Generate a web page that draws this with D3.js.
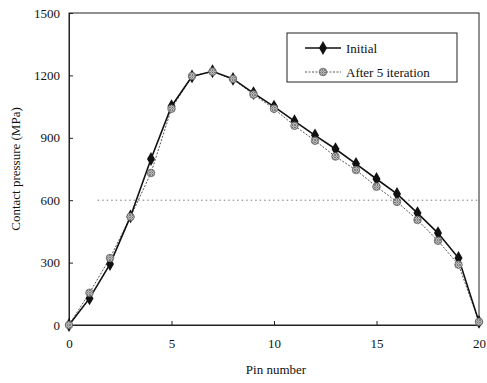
<!DOCTYPE html>
<html>
<head>
<meta charset="utf-8">
<script src="https://cdnjs.cloudflare.com/ajax/libs/d3/7.8.5/d3.min.js"></script>
<style>
  body { margin: 0; background: #fff; }
  text { font-family: "Liberation Serif", "DejaVu Serif", serif; fill: #111; }
</style>
</head>
<body>
<div id="chart"></div>
<script>
// pin index 0..20
let pins = d3.range(0, 21);
let initial = [0, 128, 293, 522, 798, 1052, 1195, 1220, 1183, 1115, 1050, 980, 912, 846, 775, 702, 630, 538, 442, 322, 15];
let after5 = [0, 155, 322, 520, 731, 1040, 1197, 1218, 1183, 1108, 1040, 958, 886, 810, 745, 665, 592, 505, 405, 290, 15];
let xTicks = [0, 5, 10, 15, 20];
let yTicks = [0, 300, 600, 900, 1200, 1500];
let seriesNames = ["Initial", "After 5 iteration"];

let width = 487, height = 383;
let mLeft = 69, mRight = 479, mTop = 13, mBottom = 325;

let svg = d3.select("#chart").append("svg")
    .attr("width", width)
    .attr("height", height);

let defs = svg.append("defs");
let pat = defs.append("pattern")
    .attr("id", "hatch")
    .attr("patternUnits", "userSpaceOnUse")
    .attr("width", 2.5).attr("height", 2.5);
pat.append("rect").attr("width", 2.5).attr("height", 2.5).attr("fill", "#e4e4e4");
pat.append("path").attr("d", "M0,0 L2.5,2.5 M2.5,0 L0,2.5")
    .attr("stroke", "#555").attr("stroke-width", 0.7);

let x = d3.scaleLinear().domain([0, 20]).range([mLeft, mRight]);
let y = d3.scaleLinear().domain([0, 1500]).range([mBottom, mTop]);

// frame
svg.append("rect")
    .attr("x", mLeft).attr("y", mTop)
    .attr("width", mRight - mLeft).attr("height", mBottom - mTop)
    .attr("fill", "none").attr("stroke", "#222").attr("stroke-width", 1);

// dotted line at 600
svg.append("line")
    .attr("x1", x(1.4)).attr("x2", mRight)
    .attr("y1", y(600)).attr("y2", y(600))
    .attr("stroke", "#777").attr("stroke-width", 1)
    .attr("stroke-dasharray", "1.5,3");

// axes (ticks inward)
let xAxis = d3.axisBottom(x).tickValues(xTicks).tickFormat(d3.format("d")).tickSize(-4).tickPadding(14);
let gx = svg.append("g").attr("transform", "translate(0," + mBottom + ")").call(xAxis);
let yAxis = d3.axisLeft(y).tickValues(yTicks).tickFormat(d3.format("d")).tickSize(-4).tickPadding(9);
let gy = svg.append("g").attr("transform", "translate(" + mLeft + ",0)").call(yAxis);
[gx, gy].forEach(g => {
    g.attr("font-family", null).attr("font-size", null);
    g.select(".domain").attr("stroke", "#222");
    g.selectAll(".tick line").attr("stroke", "#222");
    g.selectAll("text").style("font-size", "13px")
        .style("font-family", "'Liberation Serif', serif").attr("fill", "#111");
});

// axis titles
svg.append("text")
    .attr("x", 276).attr("y", 374)
    .attr("text-anchor", "middle")
    .style("font-size", "13px")
    .text("Pin number");
svg.append("text")
    .attr("transform", "translate(20," + ((mTop + mBottom) / 2) + ") rotate(-90)")
    .attr("text-anchor", "middle")
    .style("font-size", "13px")
    .text("Contact pressure (MPa)");

let line = d3.line().x((d, i) => x(pins[i])).y(d => y(d));

// after 5 iteration series
svg.append("path").datum(after5)
    .attr("d", line)
    .attr("fill", "none").attr("stroke", "#555").attr("stroke-width", 1)
    .attr("stroke-dasharray", "2,1.5");

// initial series
svg.append("path").datum(initial)
    .attr("d", line)
    .attr("fill", "none").attr("stroke", "#111").attr("stroke-width", 1.6);

svg.selectAll(".mInit").data(initial).enter().append("path")
    .attr("class", "mInit")
    .attr("d", d3.symbol().type(d3.symbolDiamond).size(55))
    .attr("transform", (d, i) => "translate(" + x(pins[i]) + "," + y(d) + ")")
    .attr("fill", "#111");

svg.selectAll(".mAfter").data(after5).enter().append("circle")
    .attr("class", "mAfter")
    .attr("cx", (d, i) => x(pins[i])).attr("cy", d => y(d))
    .attr("r", 3.8)
    .attr("fill", "url(#hatch)").attr("stroke", "#666").attr("stroke-width", 0.8);

// legend
let lg = svg.append("g");
lg.append("rect")
    .attr("x", 287).attr("y", 33).attr("width", 170).attr("height", 49)
    .attr("fill", "#fff").attr("stroke", "#222").attr("stroke-width", 1);
let ly = [48, 72];
lg.append("line").attr("x1", 305).attr("x2", 341).attr("y1", ly[0]).attr("y2", ly[0])
    .attr("stroke", "#111").attr("stroke-width", 1.6);
lg.append("path").attr("d", d3.symbol().type(d3.symbolDiamond).size(55))
    .attr("transform", "translate(323," + ly[0] + ")").attr("fill", "#111");
lg.append("line").attr("x1", 305).attr("x2", 341).attr("y1", ly[1]).attr("y2", ly[1])
    .attr("stroke", "#555").attr("stroke-width", 1).attr("stroke-dasharray", "2,1.5");
lg.append("circle").attr("cx", 323).attr("cy", ly[1]).attr("r", 3.8)
    .attr("fill", "url(#hatch)").attr("stroke", "#666").attr("stroke-width", 0.8);
lg.selectAll(".lt").data(seriesNames).enter().append("text")
    .attr("class", "lt")
    .attr("x", 346).attr("y", (d, i) => ly[i] + 4.5)
    .style("font-size", "13px")
    .text(d => d);
</script>
</body>
</html>
